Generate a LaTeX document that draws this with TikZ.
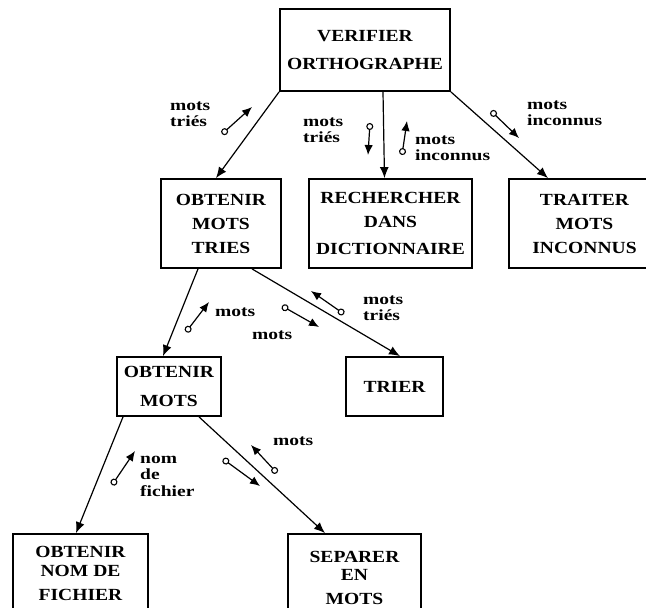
\documentclass[tikz,border=0pt]{standalone}
\usepackage{fontspec}
\usetikzlibrary{arrows.meta,calc}
\newfontfamily\boxfont[FakeStretch=1.15]{Liberation Serif}
\newfontfamily\flowfont[FakeStretch=1.26]{Liberation Serif}
\begin{document}
\begin{tikzpicture}[x=1pt,y=-1pt,
  module/.style={draw,line width=1.8pt,inner sep=0pt,align=center,
    font=\boxfont\bfseries\fontsize{17}{24}\selectfont},
  call/.style={line width=1.2pt,-{Latex[length=11pt,width=9pt]}},
  couple/.style={line width=1.2pt,
    {Circle[open,length=7pt,width=7pt,line width=1.1pt]}-{Latex[length=10pt,width=8.5pt]}},
  flow/.style={inner sep=0pt,align=left,
    font=\flowfont\bfseries\fontsize{15.5}{16.5}\selectfont}]
\useasboundingbox (0,0) rectangle (646,608);

% modules of the structure chart
\node[module,minimum width=170,minimum height=82] (verif) at (365,50)
  {VERIFIER\\[4pt]ORTHOGRAPHE};
\node[module,minimum width=120,minimum height=89] (omt) at (221,223.5)
  {OBTENIR\\MOTS\\TRIES};
\node[module,minimum width=163,minimum height=89] (rech) at (390.5,223.5)
  {RECHERCHER\\DANS\\[3pt]DICTIONNAIRE};
\node[module,minimum width=151,minimum height=89] (trait) at (584.5,223.5)
  {TRAITER\\MOTS\\INCONNUS};
\node[module,minimum width=104,minimum height=59] (om) at (169,386.5)
  {OBTENIR\\[5pt]MOTS};
\node[module,minimum width=97,minimum height=59] (trier) at (394.5,386.5)
  {TRIER};
\node[module,minimum width=135,minimum height=78] (onf) at (80.5,573)
  {OBTENIR\\[-5pt]NOM DE\\FICHIER};
\node[module,minimum width=133,minimum height=88] (sep) at (354.5,578)
  {SEPARER\\[-6pt]EN\\MOTS};

% calls between modules
\draw[call] (verif.south west) -- ([xshift=-5pt]omt.north);
\draw[call] ([xshift=18pt]verif.south) -- ([xshift=-6pt]rech.north);
\draw[call] (verif.south east) -- ([xshift=-36.5pt]trait.north);
\draw[call] ([xshift=-23pt]omt.south) -- ([xshift=-6pt]om.north);
\draw[call] ([xshift=31pt]omt.south) -- ([xshift=5.5pt]trier.north);
\draw[call] ([xshift=-46pt]om.south) -- ([xshift=-4.5pt]onf.north);
\draw[call] ([xshift=30pt]om.south) -- ([xshift=-29.5pt]sep.north);

% data couples
\coordinate (c1a) at (222,134); \coordinate (c1b) at (252,107);
\coordinate (c2a) at (370,123); \coordinate (c2b) at (368,155);
\coordinate (c3a) at (402,155); \coordinate (c3b) at (407,121);
\coordinate (c4a) at (491,111); \coordinate (c4b) at (519,138);
\coordinate (c5a) at (186,332); \coordinate (c5b) at (209,302);
\coordinate (c6a) at (282,306); \coordinate (c6b) at (319,327);
\coordinate (c7a) at (344,314); \coordinate (c7b) at (311,291);
\coordinate (c8a) at (112,485); \coordinate (c8b) at (135,451);
\coordinate (c9a) at (223,459); \coordinate (c9b) at (260,486);
\coordinate (c10a) at (277,473); \coordinate (c10b) at (251,445);
\foreach \k in {1,...,10} \draw[couple] (c\k a) -- (c\k b);

% couple labels
\node[flow,anchor=west] (l1) at (170,114) {mots\\triés};
\node[flow,anchor=west] (l2) at (303,130) {mots\\triés};
\node[flow,anchor=west] (l3) at (415,148) {mots\\inconnus};
\node[flow,anchor=west] (l4) at (527,113) {mots\\inconnus};
\node[flow,anchor=west] (l5) at (215,312) {mots};
\node[flow,anchor=west] (l6) at (252,335) {mots};
\node[flow,anchor=west] (l7) at (363,308) {mots\\triés};
\node[flow,anchor=west] (l8) at (140,476) {nom\\de\\fichier};
\node[flow,anchor=west] (l9) at (273,441) {mots};
\end{tikzpicture}
\end{document}
